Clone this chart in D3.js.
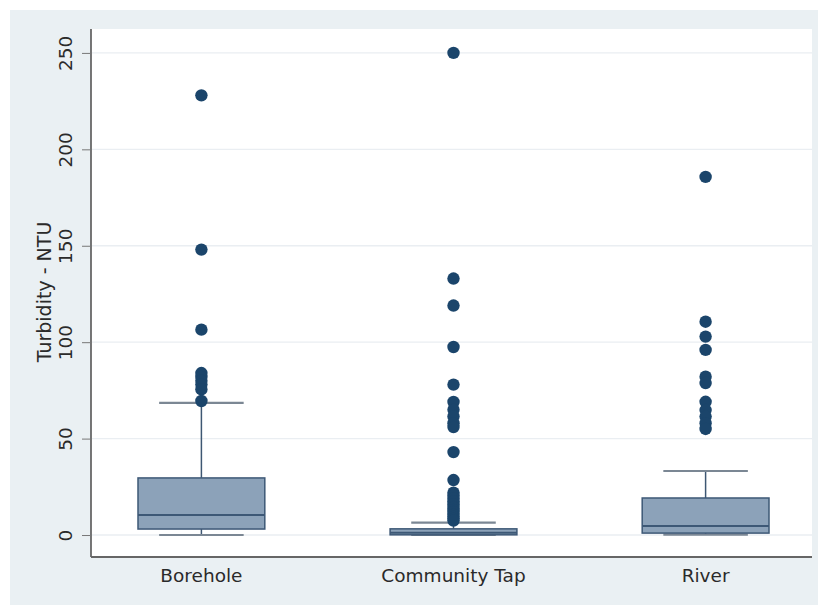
<!DOCTYPE html>
<html><head><meta charset="utf-8">
<script src="https://cdn.jsdelivr.net/npm/d3@7"></script>
<style>body{margin:0;background:#fff}svg{display:block}text{font-family:"DejaVu Sans",sans-serif}</style>
</head><body><svg id="c" width="823" height="605"></svg>
<script>
const categories = ["Borehole", "Community Tap", "River"];
const q1 = [3.1, 0.1, 1.0];
const medians = [10.4, 1.2, 4.7];
const q3 = [29.6, 3.2, 19.2];
const whiskerLow = [0, 0, 0.2];
const whiskerHigh = [68.5, 6.4, 33.2];
const outliers = [
  [228, 148, 106.5, 84, 82, 80, 78, 75.5, 69.5],
  [250, 133, 119, 97.5, 78, 69, 65, 61.5, 58, 56, 43, 28.5, 22, 20.5, 19, 17.5, 16, 14.5, 13, 12, 10.5, 9.5, 8.5, 7.5],
  [185.7, 110.6, 102.9, 96, 82.1, 78.8, 69.1, 64.8, 61.4, 58, 55]
];
const yTicks = [0, 50, 100, 150, 200, 250];
const yTitle = "Turbidity - NTU";

const svg = d3.select("#c");
const L = 91, R = 812, T = 29, B = 557;
svg.append("rect").attr("x", 10).attr("y", 10).attr("width", 808).attr("height", 595).attr("fill", "#eaf0f3");
svg.append("rect").attr("x", L).attr("y", T).attr("width", R - L).attr("height", B - T).attr("fill", "#ffffff");

const y = d3.scaleLinear().domain([-11.4, 262.4]).range([B, T]);
const x = d3.scaleBand().domain(categories).range([138, 769]).paddingInner(0.497).paddingOuter(0);

// gridlines
svg.append("g").selectAll("line").data(yTicks).join("line")
  .attr("x1", L + 1).attr("x2", R).attr("y1", d => y(d)).attr("y2", d => y(d))
  .attr("stroke", "#eaeef2").attr("stroke-width", 1.3);

// y axis
const ya = svg.append("g").attr("transform", `translate(${L},0)`)
  .call(d3.axisLeft(y).tickValues(yTicks).tickSize(9).tickPadding(8));
ya.select(".domain").attr("stroke", "#555").attr("stroke-width", 1.6).attr("d", `M0,${T}V${B}`);
ya.selectAll(".tick line").attr("stroke", "#777");
ya.selectAll(".tick text").attr("transform", "rotate(-90)").attr("x", 0).attr("y", -25)
  .attr("dy", "0.35em").attr("text-anchor", "middle").attr("font-size", 18.5).attr("fill", "#2a2a2a");

// x axis
const xa = svg.append("g").attr("transform", `translate(0,${B})`)
  .call(d3.axisBottom(x).tickSize(0).tickPadding(12));
xa.select(".domain").attr("stroke", "#666").attr("stroke-width", 1.8).attr("d", `M${L},0H${R}`);
xa.selectAll(".tick text").attr("font-size", 18.5).attr("fill", "#2a2a2a");

svg.append("text").attr("transform", `translate(44,${(T + B) / 2 - 1}) rotate(-90)`)
  .attr("text-anchor", "middle").attr("dy", "0.35em").attr("font-size", 19).attr("fill", "#2a2a2a").text(yTitle);

const data = categories.map((c, i) => ({c, q1: q1[i], med: medians[i], q3: q3[i], lo: whiskerLow[i], hi: whiskerHigh[i], out: outliers[i]}));
const bw = x.bandwidth();
const g = svg.append("g").selectAll("g").data(data).join("g");
const cx = d => x(d.c) + bw / 2;
// whiskers
g.append("line").attr("x1", cx).attr("x2", cx).attr("y1", d => y(d.q3)).attr("y2", d => y(d.hi)).attr("stroke", "#3e5773").attr("stroke-width", 1.5);
g.append("line").attr("x1", cx).attr("x2", cx).attr("y1", d => y(d.q1)).attr("y2", d => y(d.lo)).attr("stroke", "#3e5773").attr("stroke-width", 1.5);
// caps
g.append("line").attr("x1", d => cx(d) - bw / 3).attr("x2", d => cx(d) + bw / 3).attr("y1", d => y(d.hi)).attr("y2", d => y(d.hi)).attr("stroke", "#7b8794").attr("stroke-width", 2.2);
g.append("line").attr("x1", d => cx(d) - bw / 3).attr("x2", d => cx(d) + bw / 3).attr("y1", d => y(d.lo)).attr("y2", d => y(d.lo)).attr("stroke", "#7b8794").attr("stroke-width", 2.2);
// box
g.append("rect").attr("x", d => x(d.c)).attr("width", bw).attr("y", d => y(d.q3)).attr("height", d => y(d.q1) - y(d.q3))
  .attr("fill", "#8ca2b9").attr("stroke", "#3d5876").attr("stroke-width", 1.5);
g.append("line").attr("x1", d => x(d.c)).attr("x2", d => x(d.c) + bw).attr("y1", d => y(d.med)).attr("y2", d => y(d.med)).attr("stroke", "#3d5876").attr("stroke-width", 2);
// outliers
g.selectAll("circle").data(d => d.out.map(v => ({v, d}))).join("circle")
  .attr("cx", o => cx(o.d)).attr("cy", o => y(o.v)).attr("r", 6.2).attr("fill", "#1b456b");
</script></body></html>
